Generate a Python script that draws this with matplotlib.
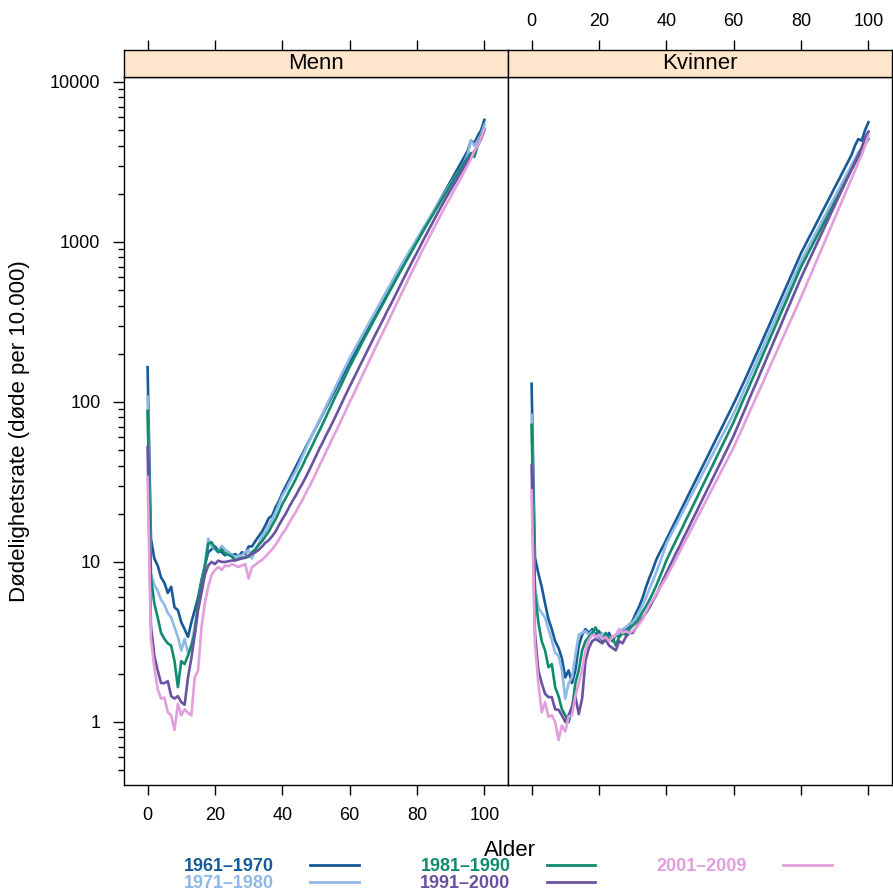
import numpy as np
import matplotlib
matplotlib.use("Agg")
import matplotlib.pyplot as plt
from matplotlib.lines import Line2D
from matplotlib.ticker import LogLocator, NullFormatter

plt.rcParams["font.family"] = ["Liberation Sans", "DejaVu Sans"]

# Alder 0-100, dødelighetsrate per 10.000 (lest av figuren)
alder = np.arange(0, 101)

perioder = ["1961–1970", "1971–1980", "1981–1990", "1991–2000", "2001–2009"]
farger = ["#165A98", "#8FB9E6", "#118A6D", "#6A52A0", "#E39EDD"]

menn_1961_1970 = [165, 14, 10.5, 9.5, 8.0, 7.4, 6.4, 7.0, 5.2, 5.0, 4.2, 3.8, 3.4, 4.2, 5.0, 6.0, 7.7, 9.5, 11.5, 12.0,
                  12.5, 11.8, 11.5, 11.0, 11.5, 11.0, 11.2, 10.8, 11.5, 11.2, 12.5,
                  12.5, 13.5, 14.5, 15.5, 17.0, 18.8, 19.5, 22, 24, 27,
                  29.7, 32.6, 35.8, 39.4, 43.3, 47.6, 52.3, 57.4, 63.1, 69.3,
                  76.2, 83.7, 92, 101, 111, 122, 134, 147, 162, 178,
                  194, 212, 231, 252, 275, 300, 327, 357, 389, 425,
                  463, 505, 551, 601, 656, 716, 781, 852, 930, 1015,
                  1106, 1206, 1315, 1433, 1562, 1703, 1856, 2023, 2205, 2404,
                  2620, 2856, 3113, 3393, 3700, 4300, 4150, 4600, 5000, 5800]
menn_1971_1980 = [108, 8.5, 7.2, 6.6, 5.8, 5.4, 4.8, 4.5, 3.9, 3.4, 2.8, 3.3, 2.7, 3.0, 4.0, 5.2, 7.4, 9.5, 14.0, 12.5,
                  12.0, 11.5, 12.6, 12.0, 11.5, 11.0, 10.8, 10.9, 11.0, 11.5, 11.9,
                  10.5, 12.0, 13.0, 14.5, 15.5, 17.0, 18.5, 20.5, 23, 26,
                  28, 31, 34, 37, 41, 46, 51, 57, 63, 70,
                  77, 85, 94, 104, 115, 127, 140, 155, 170, 188,
                  205, 225, 245, 268, 292, 320, 348, 380, 415, 455,
                  495, 540, 590, 640, 700, 760, 825, 895, 970, 1050,
                  1140, 1240, 1340, 1450, 1570, 1700, 1840, 1990, 2150, 2320,
                  2500, 2700, 2900, 3150, 3500, 4300, 4000, 4300, 4700, 5400]
menn_1981_1990 = [88, 8.0, 5.5, 4.5, 3.6, 3.3, 3.1, 3.0, 2.4, 1.65, 2.4, 2.3, 2.6, 3.0, 3.6, 5.5, 7.4, 9.3, 13.0, 13.3,
                  12.2, 11.5, 12.0, 11.3, 11.1, 10.8, 10.3, 10.4, 10.6, 10.6, 10.8,
                  11.5, 12.0, 12.8, 13.5, 14.5, 15.5, 17.0, 18.5, 20.5, 23,
                  25, 27.5, 30, 33, 36.5, 40, 44.5, 49, 54, 60,
                  66, 73, 81, 90, 100, 111, 122, 135, 150, 166,
                  182, 200, 220, 242, 265, 290, 318, 348, 380, 415,
                  455, 498, 545, 595, 650, 710, 775, 845, 920, 1000,
                  1090, 1190, 1290, 1400, 1520, 1650, 1790, 1940, 2100, 2280,
                  2470, 2680, 2900, 3130, 3350, 3600, 3400, 4000, 4600, 5100]
menn_1991_2000 = [52, 4.0, 2.6, 2.1, 1.75, 1.75, 1.8, 1.45, 1.4, 1.45, 1.33, 1.28, 1.9, 2.5, 3.5, 5.0, 6.4, 8.3, 9.5, 10.0,
                  9.7, 10.2, 10.0, 10.0, 10.1, 10.2, 10.2, 10.4, 10.5, 10.7, 11.0,
                  11.2, 11.5, 11.9, 12.5, 13.2, 13.7, 14.5, 15.5, 17, 18.5,
                  20, 22, 24, 26, 28.5, 31, 34, 37.5, 41.5, 46,
                  51, 56, 62, 68, 75, 83, 92, 102, 113, 125,
                  138, 152, 168, 185, 204, 225, 248, 273, 300, 330,
                  365, 400, 440, 485, 535, 590, 650, 715, 785, 860,
                  945, 1040, 1140, 1250, 1370, 1500, 1640, 1790, 1950, 2120,
                  2300, 2500, 2720, 2950, 3200, 3450, 3700, 4000, 4400, 5000]
menn_2001_2009 = [34, 3.3, 2.2, 1.6, 1.4, 1.42, 1.15, 1.1, 0.89, 1.3, 1.1, 1.2, 1.14, 1.1, 1.9, 2.1, 3.9, 5.5, 7.0, 8.3,
                  8.9, 9.3, 8.9, 9.5, 9.4, 9.7, 9.5, 9.3, 9.5, 9.7, 7.9,
                  9.3, 9.6, 10.0, 10.3, 10.8, 11.4, 12.0, 12.8, 13.8, 15.0,
                  16, 17.5, 19, 20.5, 22.5, 24.5, 27, 29.5, 32.5, 36,
                  40, 44, 49, 54, 60, 66, 73, 81, 90, 100,
                  110, 122, 135, 150, 166, 184, 204, 226, 250, 276,
                  305, 338, 374, 414, 458, 506, 560, 620, 685, 755,
                  835, 920, 1010, 1110, 1220, 1340, 1470, 1610, 1760, 1920,
                  2100, 2300, 2500, 2750, 3000, 3300, 3700, 4000, 4500, 5100]

kvinner_1961_1970 = [130, 10.7, 8.5, 7.0, 5.5, 4.4, 3.8, 3.2, 2.9, 2.5, 1.9, 2.1, 1.75, 2.1, 3.0, 3.5, 3.8, 3.6, 3.8, 3.5,
                     3.7, 3.4, 3.3, 3.6, 3.2, 3.5, 3.4, 3.6, 3.8, 4.0, 4.3,
                     4.8, 5.3, 6.0, 7.0, 8.0, 9.0, 10.3, 11.4, 12.5, 13.8,
                     15.2, 16.8, 18.5, 20.4, 22.5, 24.8, 27.4, 30.2, 33.3, 36.7,
                     40.5, 44.6, 49.2, 54.3, 59.9, 66, 72.8, 80.3, 88.5, 97.6,
                     108, 120, 133, 148, 165, 184, 205, 228, 255, 284,
                     317, 354, 395, 441, 492, 549, 613, 684, 763, 852,
                     935, 1030, 1130, 1240, 1365, 1500, 1650, 1810, 1990, 2190,
                     2400, 2640, 2900, 3190, 3500, 4000, 4400, 4300, 5000, 5600]
kvinner_1971_1980 = [83, 7.0, 5.2, 4.8, 4.5, 3.8, 3.25, 2.7, 2.6, 2.1, 1.4, 1.75, 1.9, 2.6, 3.5, 3.6, 3.7, 3.5, 3.7, 3.4,
                     3.3, 3.6, 3.2, 3.4, 3.3, 3.5, 3.6, 3.8, 3.9, 4.1, 4.2,
                     4.5, 4.9, 5.4, 6.0, 6.8, 7.6, 8.6, 9.8, 11.2, 13.0,
                     14.3, 15.7, 17.2, 18.9, 20.8, 22.8, 25.1, 27.5, 30.2, 33.2,
                     36.4, 40, 44, 48.2, 53, 58.2, 63.9, 70.1, 77, 84.6,
                     94.4, 105, 118, 131, 147, 164, 183, 204, 228, 254,
                     284, 317, 353, 394, 440, 491, 548, 611, 682, 761,
                     834, 915, 1003, 1100, 1206, 1322, 1450, 1590, 1743, 1911,
                     2095, 2297, 2519, 2762, 3028, 3320, 3640, 3800, 4300, 4800]
kvinner_1981_1990 = [72, 6.5, 4.2, 3.2, 2.8, 2.2, 2.3, 1.65, 1.45, 1.2, 1.1, 1.0, 1.2, 1.75, 2.1, 2.8, 3.2, 3.4, 3.6, 3.9,
                     3.5, 3.2, 3.6, 3.3, 3.4, 3.0, 3.4, 3.6, 3.5, 3.8, 4.0,
                     4.2, 4.5, 4.9, 5.3, 5.8, 6.4, 7.1, 8.0, 9.0, 10.2,
                     11.3, 12.5, 13.8, 15.2, 16.8, 18.6, 20.5, 22.7, 25, 27.7,
                     30.6, 33.8, 37.3, 41.2, 45.6, 50.3, 55.6, 61.4, 67.9, 75,
                     83.9, 93.7, 105, 117, 131, 146, 164, 183, 205, 229,
                     256, 286, 320, 358, 400, 447, 500, 559, 626, 700,
                     768, 843, 925, 1015, 1114, 1223, 1342, 1473, 1617, 1774,
                     1947, 2137, 2345, 2574, 2825, 3100, 3400, 3600, 4100, 4400]
kvinner_1991_2000 = [40, 3.6, 2.1, 1.75, 1.5, 1.43, 1.43, 1.2, 1.19, 1.1, 1.0, 1.1, 1.25, 1.45, 1.12, 1.4, 2.4, 2.9, 3.2, 3.3,
                     3.2, 3.1, 3.3, 3.0, 2.9, 2.8, 3.2, 3.1, 3.4, 3.6, 3.6,
                     3.9, 4.2, 4.5, 4.8, 5.2, 5.7, 6.2, 6.9, 7.7, 8.5,
                     9.4, 10.4, 11.5, 12.6, 14, 15.4, 17, 18.8, 20.7, 22.9,
                     25.3, 27.9, 30.8, 34, 37.5, 41.4, 45.7, 50.4, 55.7, 61.5,
                     68.9, 77.2, 86.5, 97, 109, 122, 136, 153, 171, 192,
                     215, 241, 270, 302, 339, 380, 425, 477, 534, 598,
                     664, 737, 818, 907, 1007, 1117, 1240, 1376, 1527, 1694,
                     1880, 2086, 2315, 2570, 2850, 3160, 3500, 3900, 4500, 4900]
kvinner_2001_2009 = [28, 3.1, 1.75, 1.15, 1.33, 1.08, 1.1, 1.0, 0.77, 0.95, 0.87, 1.08, 1.1, 1.45, 1.75, 2.1, 2.8, 3.25, 3.5, 3.4,
                     3.5, 3.3, 3.4, 3.2, 3.4, 3.5, 3.8, 3.6, 3.7, 3.6, 3.7,
                     3.9, 4.1, 4.4, 4.9, 5.4, 5.8, 6.3, 6.8, 7.4, 8.0,
                     8.8, 9.6, 10.6, 11.6, 12.8, 14, 15.4, 16.9, 18.6, 20.4,
                     22.4, 24.6, 27, 29.7, 32.6, 35.8, 39.3, 43.1, 47.4, 52,
                     58, 64.5, 71.9, 80.1, 89.2, 99.4, 111, 123, 137, 153,
                     171, 190, 212, 236, 263, 293, 326, 363, 405, 451,
                     505, 566, 634, 711, 797, 893, 1000, 1121, 1256, 1408,
                     1578, 1768, 1981, 2220, 2488, 2788, 3124, 3500, 4000, 4600]

paneler = [
    ("Menn", [menn_1961_1970, menn_1971_1980, menn_1981_1990, menn_1991_2000, menn_2001_2009]),
    ("Kvinner", [kvinner_1961_1970, kvinner_1971_1980, kvinner_1981_1990, kvinner_1991_2000, kvinner_2001_2009]),
]

W = H = 893.0


def rect(x0, y0, x1, y1):
    return [x0 / W, 1 - y1 / H, (x1 - x0) / W, (y1 - y0) / H]


fig = plt.figure(figsize=(8.93, 8.93), dpi=100)

xlim = (-7, 107)
ylim = (10 ** -0.394, 10 ** 4.031)

for i, (navn, serier) in enumerate(paneler):
    x0 = 124 + i * 384
    ax = fig.add_axes(rect(x0, 77, x0 + 384, 785))
    strip = fig.add_axes(rect(x0, 50, x0 + 384, 77))

    for verdier, farge in zip(serier, farger):
        ax.plot(alder, verdier, color=farge, lw=1.9)

    ax.set_yscale("log")
    ax.set_xlim(xlim)
    ax.set_ylim(ylim)
    ax.set_xticks(range(0, 101, 20))
    ax.tick_params(axis="x", direction="out", length=7.5, width=1, pad=8,
                   labelsize=13, labelbottom=(i == 0))
    if i == 0:
        ax.set_yticks([1, 10, 100, 1000, 10000], labels=["1", "10", "100", "1000", "10000"])
        ax.yaxis.set_minor_locator(LogLocator(base=10, subs=np.arange(2, 10)))
        ax.yaxis.set_minor_formatter(NullFormatter())
        ax.tick_params(axis="y", which="major", direction="out", length=8, width=1, pad=9, labelsize=13)
        ax.tick_params(axis="y", which="minor", direction="out", length=4.5, width=1)
    else:
        ax.tick_params(axis="y", which="both", left=False, labelleft=False)
    for sp in ax.spines.values():
        sp.set_color("black")
        sp.set_linewidth(1)

    strip.set_facecolor("#ffe5cc")
    strip.set_xlim(xlim)
    strip.set_yticks([])
    strip.set_xticks(range(0, 101, 20))
    strip.xaxis.tick_top()
    strip.tick_params(axis="x", direction="out", length=7.5, width=1, pad=7,
                      labelsize=13, labeltop=(i == 1), labelbottom=False, bottom=False)
    for sp in strip.spines.values():
        sp.set_color("black")
        sp.set_linewidth(1)
    strip.text(0.5, 0.5, navn, transform=strip.transAxes, ha="center", va="center", fontsize=16)

fig.text(20 / W, 1 - 431 / H, "Dødelighetsrate (døde per 10.000)", rotation=90,
         ha="center", va="center", fontsize=16)
fig.text(510 / W, 1 - 850 / H, "Alder", ha="center", va="center", fontsize=16)

handles = [Line2D([], [], color=f, lw=2) for f in farger]
leg = fig.legend(handles, perioder, ncol=3, loc="center", bbox_to_anchor=(508 / W, 1 - 875 / H),
                 frameon=False, markerfirst=False, handlelength=2.7, handletextpad=2.0,
                 columnspacing=3.4, labelspacing=0.0, borderpad=0,
                 prop={"weight": "bold", "size": 13})
for tekst, farge in zip(leg.get_texts(), farger):
    tekst.set_color(farge)

fig.savefig("out.png", dpi=100)
